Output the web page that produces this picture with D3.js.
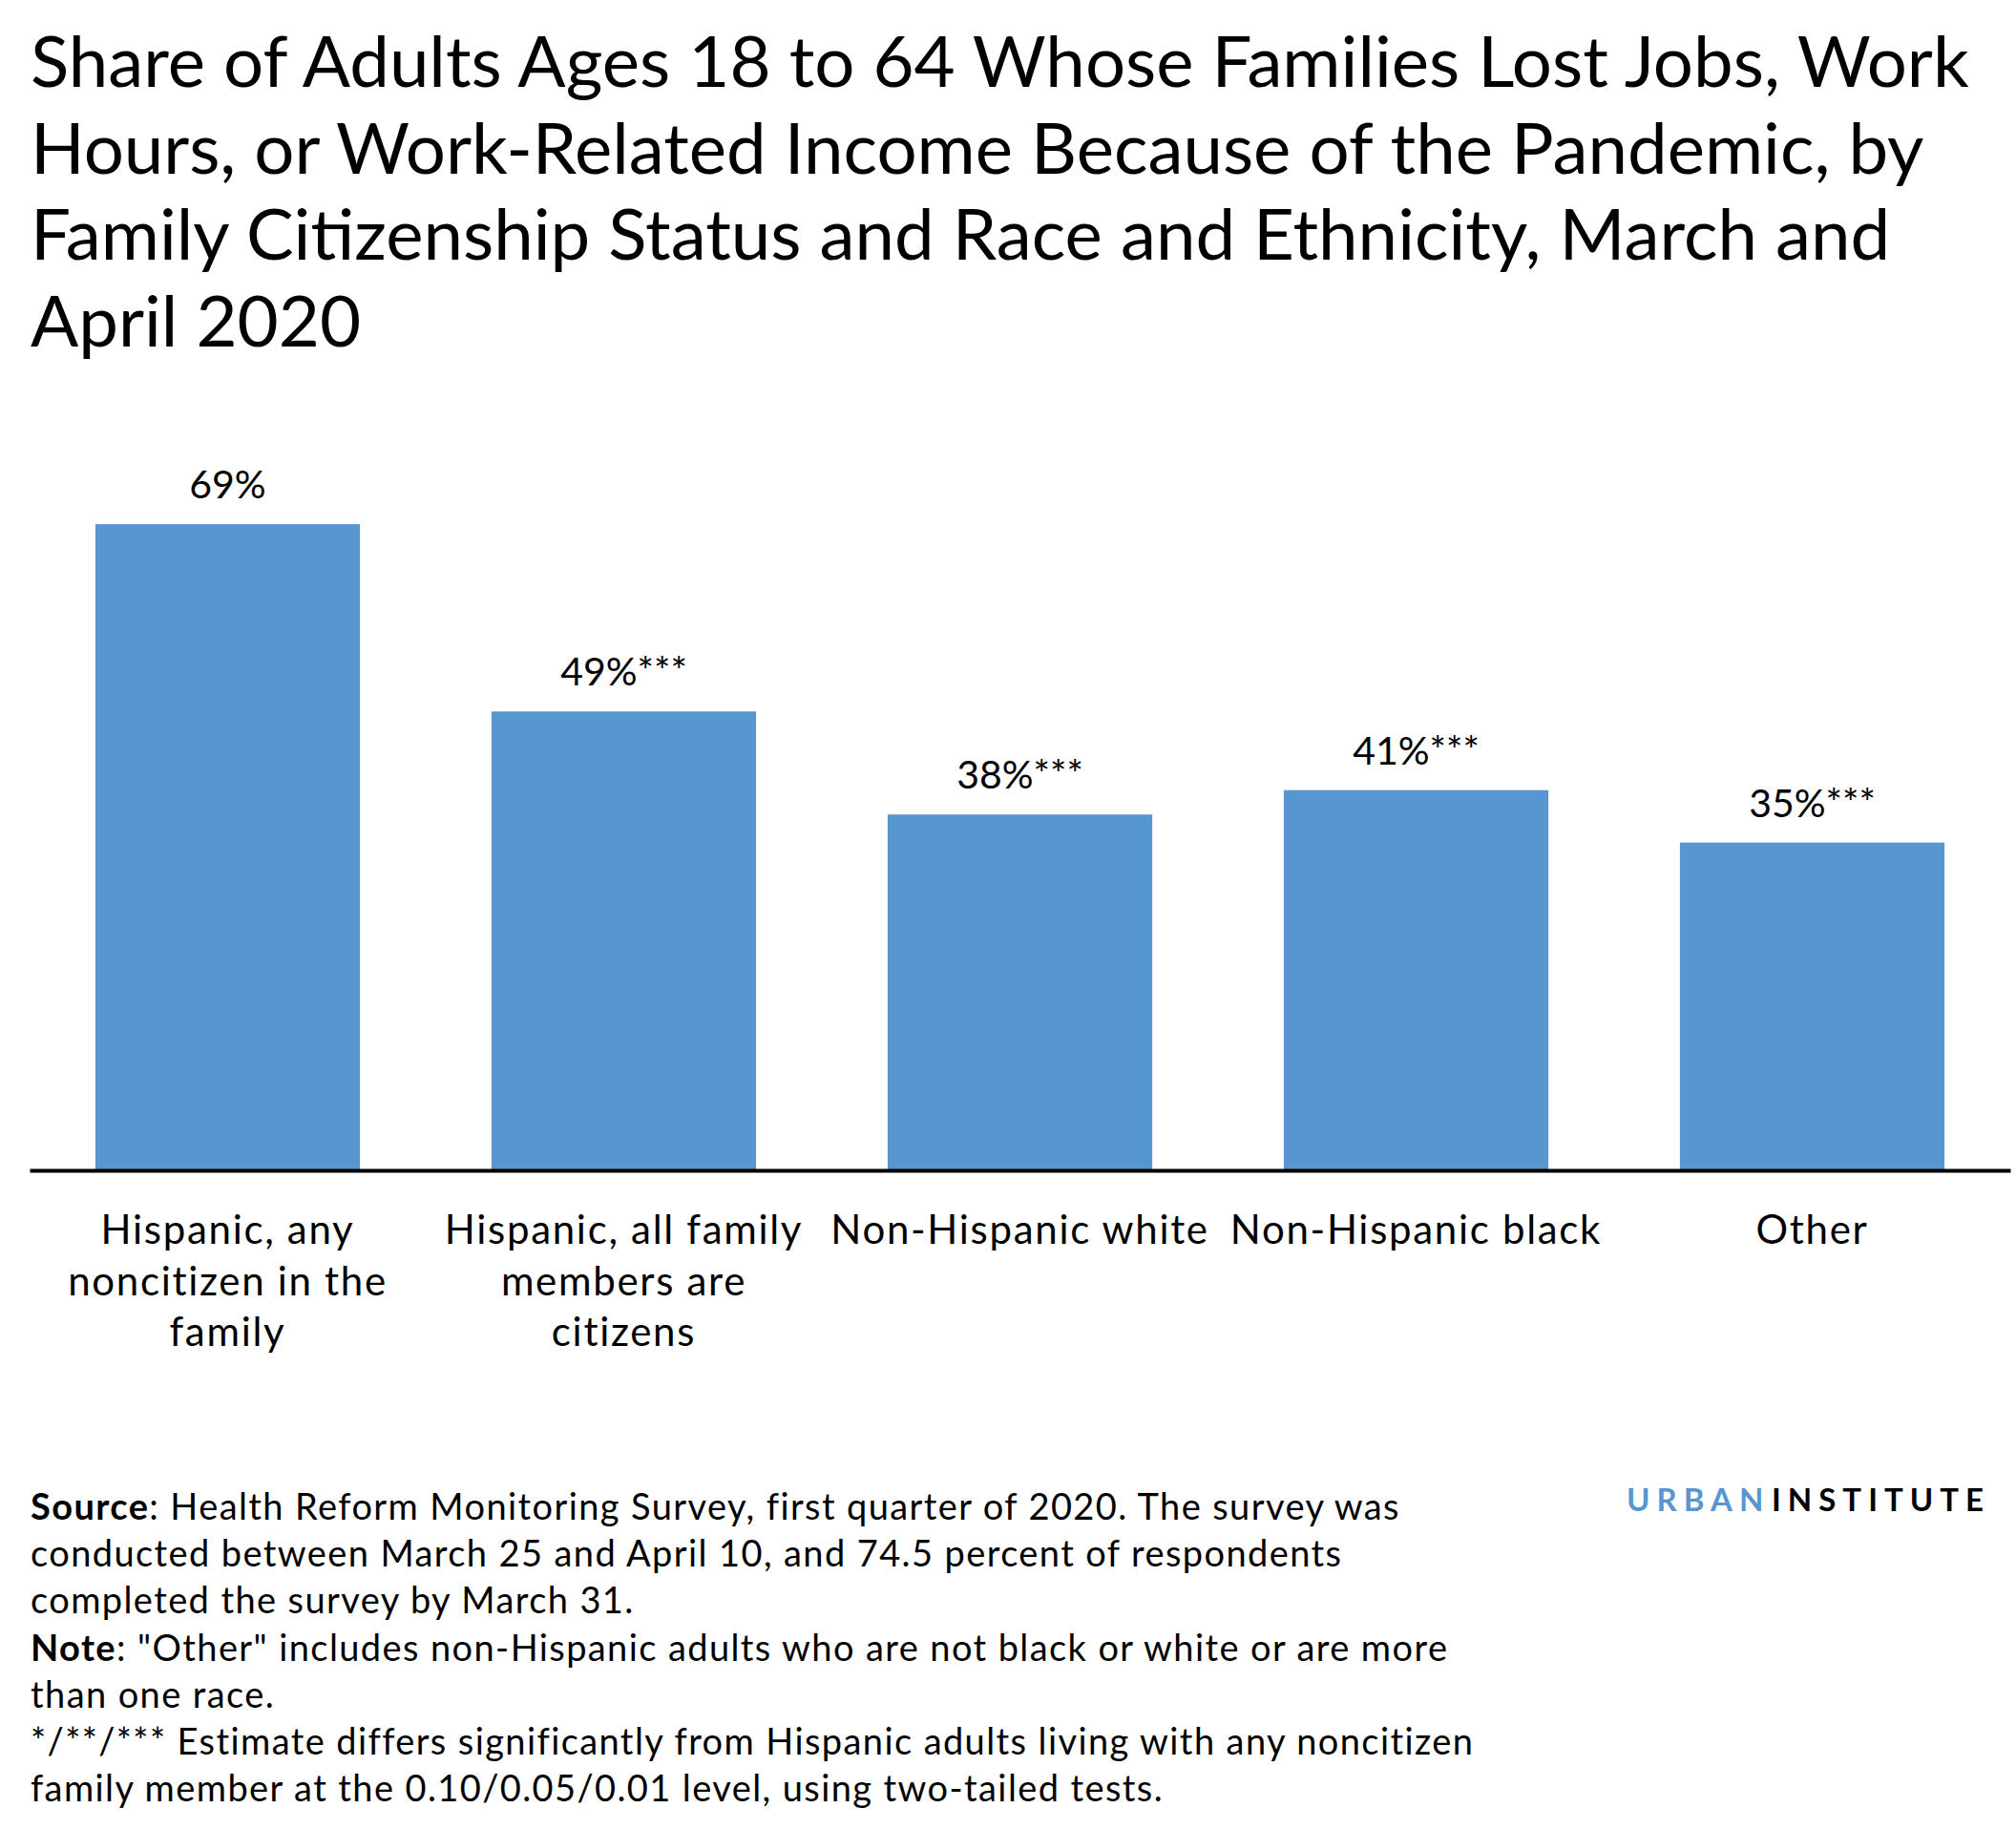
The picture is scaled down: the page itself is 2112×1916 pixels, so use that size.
<!DOCTYPE html>
<html>
<head>
<meta charset="utf-8">
<script src="https://cdn.jsdelivr.net/npm/d3@7.9.0/dist/d3.min.js"></script>
<style>
  body { margin: 0; background: #fff; }
  svg { display: block; font-family: Lato, "Open Sans", sans-serif; }
</style>
</head>
<body>
<svg id="chart" width="2112" height="1916"></svg>
<script>
// --- data ---
const categories = [
  ["Hispanic, any", "noncitizen in the", "family"],
  ["Hispanic, all family", "members are", "citizens"],
  ["Non-Hispanic white"],
  ["Non-Hispanic black"],
  ["Other"]
];
// shares in percent (labels are rounded to whole numbers)
const values = [69, 49, 38, 40.6, 35];
const stars = ["", "***", "***", "***", "***"];

const titleLines = [
  "Share of Adults Ages 18 to 64 Whose Families Lost Jobs, Work",
  "Hours, or Work-Related Income Because of the Pandemic, by",
  "Family Citizenship Status and Race and Ethnicity, March and",
  "April 2020"
];

const notes = [
  [["Source", true], [": Health Reform Monitoring Survey, first quarter of 2020. The survey was", false]],
  [["conducted between March 25 and April 10, and 74.5 percent of respondents", false]],
  [["completed the survey by March 31.", false]],
  [["Note", true], [": \"Other\" includes non-Hispanic adults who are not black or white or are more", false]],
  [["than one race.", false]],
  [["*/**/*** Estimate differs significantly from Hispanic adults living with any noncitizen", false]],
  [["family member at the 0.10/0.05/0.01 level, using two-tailed tests.", false]]
];

const data = values.map((v, i) => ({ key: i, lines: categories[i], value: v, stars: stars[i] }));

// --- setup ---
const svg = d3.select("#chart");
const width = +svg.attr("width");
const height = +svg.attr("height");
const blue = "#5796d1";
const fmt = d3.format(".0f");

svg.append("rect").attr("width", width).attr("height", height).attr("fill", "#fff");

// Title
svg.append("g")
  .selectAll("text")
  .data(titleLines)
  .join("text")
  .attr("x", 32)
  .attr("y", (d, i) => 91 + i * 90.5)
  .attr("font-size", 74.4)
  .attr("fill", "#000")
  .text(d => d);

// Scales
const x = d3.scaleBand()
  .domain(data.map(d => d.key))
  .range([31, 2106])
  .paddingInner(0.332)
  .paddingOuter(0.166);

const baseY = 1226;
const y = d3.scaleLinear()
  .domain([0, 100])
  .range([baseY, baseY - 981]);

// Bars
svg.append("g")
  .selectAll("rect")
  .data(data)
  .join("rect")
  .attr("x", d => x(d.key))
  .attr("y", d => y(d.value))
  .attr("width", x.bandwidth())
  .attr("height", d => y(0) - y(d.value))
  .attr("fill", blue);

// Value labels
svg.append("g")
  .selectAll("text")
  .data(data)
  .join("text")
  .attr("x", d => x(d.key) + x.bandwidth() / 2)
  .attr("y", d => y(d.value) - 27)
  .attr("text-anchor", "middle")
  .attr("font-size", 41)
  .text(d => fmt(d.value) + "%" + d.stars);

// Baseline axis (no ticks)
const axis = svg.append("g")
  .attr("transform", `translate(0,${baseY})`)
  .call(d3.axisBottom(x).tickSize(0).tickFormat(""));
axis.select(".domain")
  .attr("stroke", "#000")
  .attr("stroke-width", 4);

// Category labels
const lab = svg.append("g")
  .selectAll("text")
  .data(data)
  .join("text")
  .attr("x", d => x(d.key) + x.bandwidth() / 2)
  .attr("y", 1303)
  .attr("text-anchor", "middle")
  .attr("font-size", 42)
  .attr("letter-spacing", 1.7);
lab.selectAll("tspan")
  .data(d => d.lines.map(l => ({ l, cx: x(d.key) + x.bandwidth() / 2 })))
  .join("tspan")
  .attr("x", d => d.cx)
  .attr("dy", (d, i) => i === 0 ? 0 : 53.5)
  .text(d => d.l);

// Notes
const noteText = svg.append("g")
  .selectAll("text")
  .data(notes)
  .join("text")
  .attr("x", 32)
  .attr("y", (d, i) => 1592 + i * 49.2)
  .attr("font-size", 38)
  .attr("letter-spacing", 1.4);
noteText.selectAll("tspan")
  .data(d => d)
  .join("tspan")
  .attr("font-weight", d => d[1] ? 700 : 400)
  .text(d => d[0]);

// Logo
svg.append("text")
  .attr("x", 1704)
  .attr("y", 1583)
  .attr("font-size", 33)
  .attr("font-weight", 700)
  .attr("letter-spacing", 7)
  .attr("fill", blue)
  .text("URBAN");
svg.append("text")
  .attr("x", 2085)
  .attr("y", 1583)
  .attr("text-anchor", "end")
  .attr("font-size", 33)
  .attr("font-weight", 700)
  .attr("letter-spacing", 7)
  .attr("fill", "#000")
  .text("INSTITUTE");
</script>
</body>
</html>
